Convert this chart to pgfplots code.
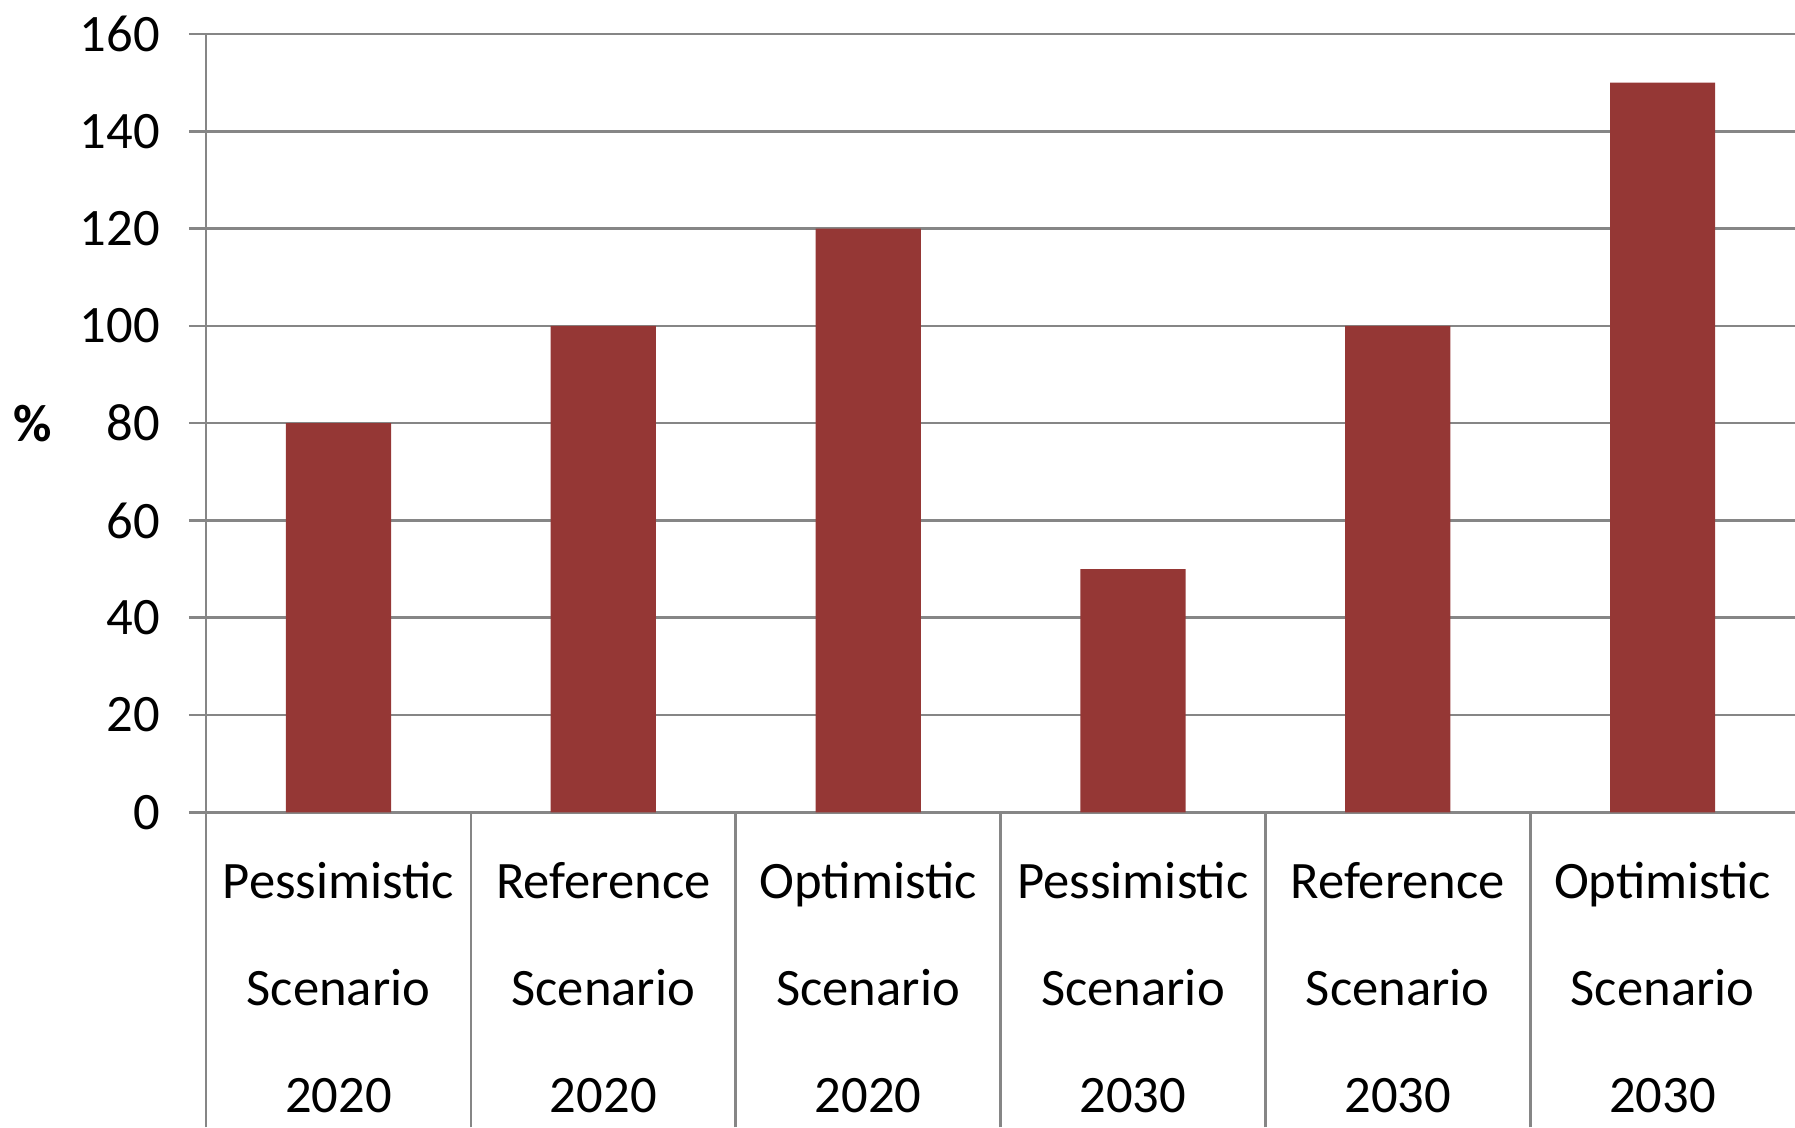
\documentclass[border=0pt]{standalone}
\usepackage{fontspec}
\setmainfont{Carlito}
\usepackage{pgfplots}
\pgfplotsset{compat=1.18}
\definecolor{barred}{RGB}{149,55,53}
\definecolor{rulegray}{RGB}{134,134,134}

\begin{document}
\begin{tikzpicture}
\begin{axis}[
  scale only axis,
  width=362.4pt, height=177.5pt,
  xmin=-0.5, xmax=5.5, ymin=0, ymax=160,
  ytick={0,20,...,160},
  ymajorgrids,
  grid style={rulegray, line width=0.6pt},
  axis x line=bottom, axis y line=left,
  axis line style={-, rulegray, line width=0.6pt},
  tick align=outside, major tick length=3.9pt,
  ytick style={rulegray, line width=0.6pt},
  xtick={0,...,5}, xtick style={draw=none},
  xticklabels={{Pessimistic\\Scenario\\2020},{Reference\\Scenario\\2020},{Optimistic\\Scenario\\2020},
               {Pessimistic\\Scenario\\2030},{Reference\\Scenario\\2030},{Optimistic\\Scenario\\2030}},
  extra x ticks={-0.5,0.5,1.5,2.5,3.5,4.5},
  extra x tick labels={},
  extra x tick style={major tick length=71.85pt, xtick style={draw=rulegray, line width=0.6pt}},
  /pgf/number format/assume math mode=true,
  yticklabel style={font=\fontsize{12}{14}\selectfont, text=black, xshift=-3.1pt},
  xticklabel style={align=center, font=\fontsize{12}{24.4}\selectfont, text=black, yshift=-3.9pt},
  every axis y label/.style={at={(rel axis cs:0,0.5)}, anchor=center, xshift=-39.5pt, font=\fontsize{12}{14}\selectfont\bfseries},
  ylabel={\%},
  clip=false,
]
  \addplot[ybar, bar width=24pt, fill=barred, draw=none]
    coordinates {(0,80) (1,100) (2,120) (3,50) (4,100) (5,150)};
  \coordinate (ll) at (rel axis cs:0,0);
  \coordinate (ur) at (rel axis cs:1,1);
\end{axis}
\pgfresetboundingbox
\path ([xshift=-47.0pt, yshift=-71.85pt]ll) rectangle ([yshift=7.76pt]ur);
\end{tikzpicture}
\end{document}
